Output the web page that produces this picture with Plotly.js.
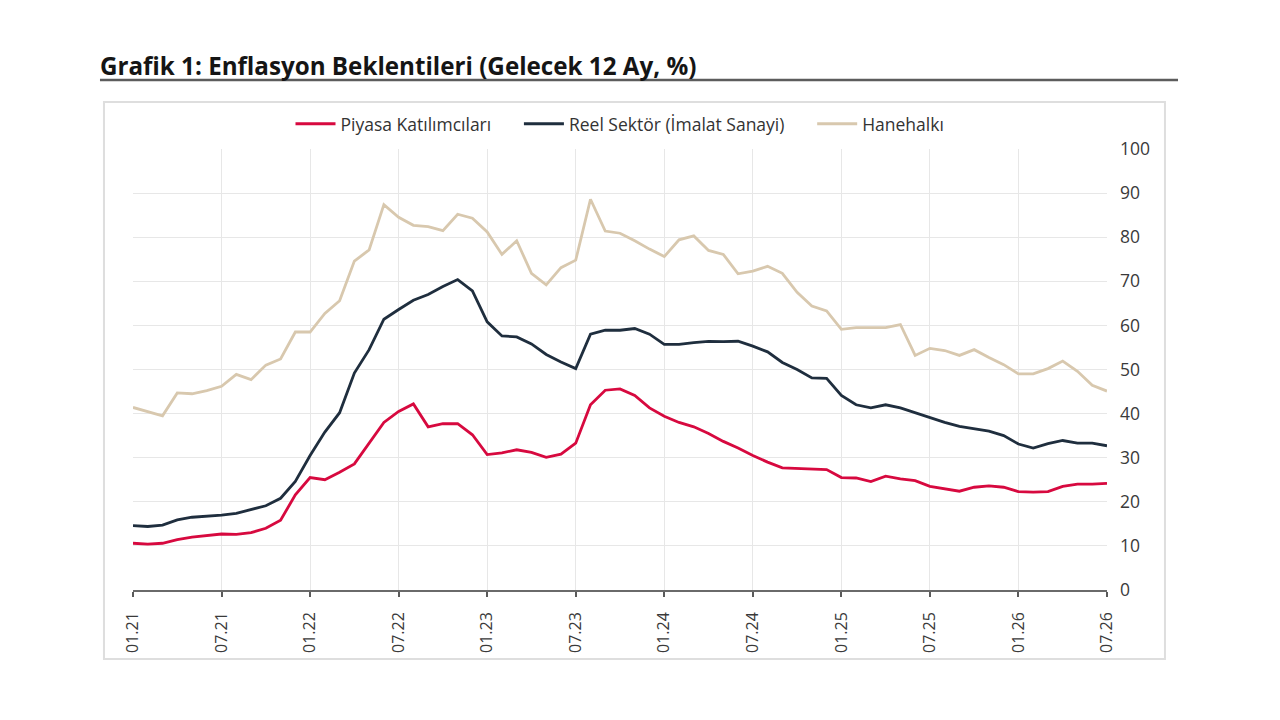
<!DOCTYPE html>
<html>
<head>
<meta charset="utf-8">
<script src="https://cdn.plot.ly/plotly-3.0.1.min.js"></script>
<style>
  html, body { margin: 0; padding: 0; background: #ffffff; }
  #chart { width: 1280px; height: 720px; }
</style>
</head>
<body>
<div id="chart"></div>
<script>
// Monthly observations, 01.21 – 07.26
const months = [
  "01.21","02.21","03.21","04.21","05.21","06.21","07.21","08.21","09.21","10.21","11.21","12.21",
  "01.22","02.22","03.22","04.22","05.22","06.22","07.22","08.22","09.22","10.22","11.22","12.22",
  "01.23","02.23","03.23","04.23","05.23","06.23","07.23","08.23","09.23","10.23","11.23","12.23",
  "01.24","02.24","03.24","04.24","05.24","06.24","07.24","08.24","09.24","10.24","11.24","12.24",
  "01.25","02.25","03.25","04.25","05.25","06.25","07.25","08.25","09.25","10.25","11.25","12.25",
  "01.26","02.26","03.26","04.26","05.26","06.26","07.26"
];

// Piyasa Katılımcıları
const piyasa = [
  10.6, 10.4, 10.6, 11.4, 12.0, 12.3, 12.7, 12.6, 13.0, 14.0, 15.8, 21.6,
  25.5, 25.0, 26.7, 28.6, 33.3, 38.0, 40.5, 42.2, 37.0, 37.7, 37.7, 35.2,
  30.7, 31.1, 31.8, 31.2, 30.1, 30.8, 33.3, 42.0, 45.3, 45.6, 44.1, 41.3,
  39.4, 38.0, 37.0, 35.5, 33.7, 32.2, 30.5, 29.0, 27.7, 27.6, 27.4, 27.3,
  25.5, 25.4, 24.6, 25.8, 25.2, 24.8, 23.5, 23.0, 22.4, 23.3, 23.6, 23.3,
  22.3, 22.2, 22.3, 23.5, 24.0, 24.0, 24.2
];

// Reel Sektör (İmalat Sanayi)
const reelSektor = [
  14.6, 14.4, 14.7, 15.9, 16.5, 16.7, 17.0, 17.4, 18.2, 19.1, 20.8, 24.6,
  30.5, 35.8, 40.2, 49.2, 54.5, 61.4, 63.6, 65.7, 67.0, 68.8, 70.4, 67.8,
  60.8, 57.6, 57.4, 55.8, 53.4, 51.7, 50.2, 58.0, 58.9, 58.9, 59.3, 58.0,
  55.7, 55.7, 56.1, 56.4, 56.3, 56.4, 55.3, 54.0, 51.6, 50.0, 48.1, 48.0,
  44.1, 42.0, 41.3, 42.0, 41.3, 40.2, 39.2, 38.0, 37.1, 36.6, 36.0, 35.0,
  33.1, 32.2, 33.2, 33.9, 33.3, 33.3, 32.7
];

// Hanehalkı
const hanehalki = [
  41.4, 40.5, 39.5, 44.7, 44.5, 45.2, 46.2, 48.9, 47.7, 51.0, 52.4, 58.5,
  58.5, 62.7, 65.6, 74.6, 77.1, 87.4, 84.5, 82.7, 82.4, 81.5, 85.2, 84.3,
  81.2, 76.1, 79.2, 71.8, 69.2, 73.1, 74.8, 88.6, 81.4, 80.9, 79.2, 77.3,
  75.6, 79.4, 80.3, 77.0, 76.1, 71.7, 72.3, 73.4, 71.8, 67.5, 64.4, 63.3,
  59.1, 59.5, 59.5, 59.5, 60.2, 53.2, 54.8, 54.3, 53.2, 54.5, 52.7, 51.1,
  49.0, 49.0, 50.2, 51.9, 49.6, 46.4, 45.1
];

const seriesNames = ["Piyasa Katılımcıları", "Reel Sektör (İmalat Sanayi)", "Hanehalkı"];

// Label every sixth month (January and July)
const tickMonths = months.filter((m, i) => i % 6 === 0);

const FONT = "'Open Sans', 'Noto Sans', sans-serif";
// extra breathing room after a legend entry
const LEGEND_PAD = "&nbsp;&nbsp;&nbsp;&nbsp;&nbsp;";

function lineTrace(name, values, color, pad) {
  return {
    type: "scatter",
    mode: "lines",
    name: name + (pad ? LEGEND_PAD : ""),
    x: months,
    y: values,
    line: { color: color, width: 2.8 },
    hovertemplate: "%{x}: %{y}<extra>" + name + "</extra>"
  };
}

const traces = [
  lineTrace(seriesNames[0], piyasa, "#d7093f", true),
  lineTrace(seriesNames[1], reelSektor, "#1f2e3e", true),
  lineTrace(seriesNames[2], hanehalki, "#d8c8ae", false)
];

const layout = {
  width: 1280,
  height: 720,
  paper_bgcolor: "#ffffff",
  plot_bgcolor: "#ffffff",
  margin: { l: 133, r: 173, t: 149, b: 130 },
  font: { family: FONT, color: "#3a3a3a" },
  title: {
    text: "<b>Grafik 1: Enflasyon Beklentileri (Gelecek 12 Ay, %)</b>",
    xref: "container", yref: "container",
    x: 100 / 1280, xanchor: "left",
    y: 1 - 67 / 720, yanchor: "middle",
    font: { family: FONT, size: 24.2, color: "#151515" }
  },
  showlegend: true,
  legend: {
    orientation: "h",
    x: 0.5, xanchor: "center",
    y: 1.057, yanchor: "middle",
    itemwidth: 40,
    font: { family: FONT, size: 17.5, color: "#333333" },
    bgcolor: "rgba(0,0,0,0)",
    traceorder: "normal"
  },
  xaxis: {
    type: "category",
    range: [0, months.length - 1],
    tickmode: "array",
    tickvals: tickMonths,
    ticktext: tickMonths,
    tickangle: -90,
    ticks: "outside",
    ticklen: 5,
    tickwidth: 1.5,
    tickcolor: "#5a5a5a",
    ticklabelstandoff: 9,
    showline: true,
    linecolor: "#6a6a6a",
    linewidth: 1.5,
    showgrid: true,
    gridcolor: "#e7e7e7",
    gridwidth: 1,
    zeroline: false,
    tickfont: { family: FONT, size: 16, color: "#3a3a3a" },
    fixedrange: true
  },
  yaxis: {
    side: "right",
    range: [0, 100],
    dtick: 10,
    tick0: 0,
    showgrid: true,
    gridcolor: "#e7e7e7",
    gridwidth: 1,
    zeroline: false,
    showline: false,
    ticks: "",
    ticklabelstandoff: 12,
    tickfont: { family: FONT, size: 17.5, color: "#3a3a3a" },
    fixedrange: true
  },
  shapes: [
    // underline beneath the heading
    {
      type: "line", xref: "paper", yref: "paper",
      x0: -0.0339, x1: 1.0729, y0: 1.1565, y1: 1.1565,
      line: { color: "#5c5c5c", width: 2.5 }
    },
    // frame around the chart panel
    {
      type: "rect", xref: "paper", yref: "paper", layer: "below",
      x0: -0.0298, x1: 1.0595, y0: -0.1565, y1: 1.1066,
      line: { color: "#dedede", width: 2 },
      fillcolor: "rgba(0,0,0,0)"
    }
  ]
};

Plotly.newPlot("chart", traces, layout, { displayModeBar: false });
</script>
</body>
</html>
